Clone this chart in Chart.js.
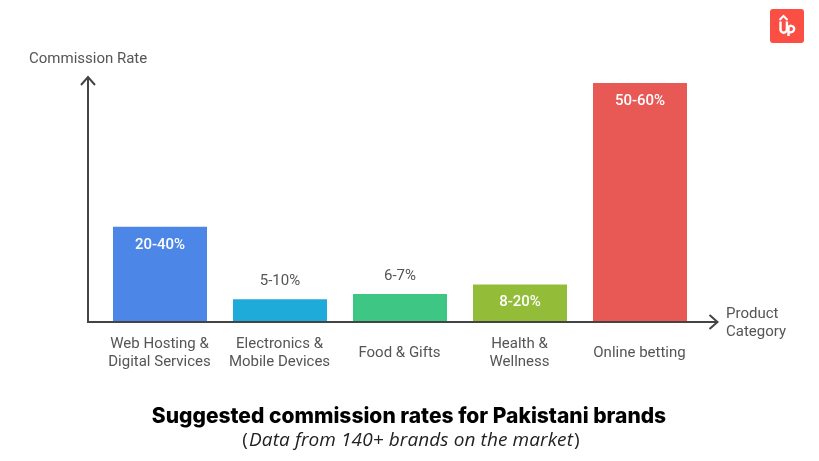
<!DOCTYPE html>
<html>
<head>
<meta charset="utf-8">
<title>Suggested commission rates</title>
<script src="https://cdn.jsdelivr.net/npm/chart.js@4"></script>
<style>
  html, body { margin: 0; padding: 0; background: #fff; }
  #wrap { position: relative; width: 819px; height: 461px; overflow: hidden; }
  #logo { position: absolute; left: 770px; top: 9px; }
</style>
</head>
<body>
<div id="wrap">
  <canvas id="bar-chart" width="819" height="461"></canvas>
  <svg id="logo" width="34" height="34" viewBox="0 0 34 34">
    <rect width="34" height="34" rx="3" fill="#fb4f45"/>
    <path d="M9.5 11 L13.5 7 L17.5 11" fill="none" stroke="#fff" stroke-width="2"/>
    <path d="M10.5 12.5 V20.5 a3.2 3.2 0 0 0 6.4 0 V12.5" fill="none" stroke="#fff" stroke-width="2.4"/>
    <path d="M18.5 27 V18 a3.2 3.2 0 1 1 2.5 5.2 H18" fill="none" stroke="#fff" stroke-width="2.4"/>
  </svg>
</div>
<script>
// Data
var categories = [["Web Hosting &", "Digital Services"], ["Electronics &", "Mobile Devices"], ["Food & Gifts"], ["Health &", "Wellness"], ["Online betting"]];
var barHeights = [23.9, 5.7, 7, 9.4, 60];
var rateLabels = ["20-40%", "5-10%", "6-7%", "8-20%", "50-60%"];
var barColors = ["#4c87e8", "#1eabda", "#3ec784", "#93bd39", "#e85854"];
var yAxisTitle = "Commission Rate";
var xAxisTitle = ["Product", "Category"];
var chartTitle = "Suggested commission rates for Pakistani brands";
var chartSubtitle = "Data from 140+ brands on the market";

var textColor = "#555555";
var axisColor = "#444444";

// Axis lines with arrow heads, hung off the chart area
var axisArrows = {
  id: "axisArrows",
  afterDatasetsDraw: function (chart) {
    var ctx = chart.ctx, area = chart.chartArea;
    var x0 = area.left - 12, y0 = area.bottom;
    var tipX = area.right + 17.5, tipY = area.top - 6;
    ctx.save();
    ctx.strokeStyle = axisColor;
    ctx.lineWidth = 2;
    ctx.beginPath();
    ctx.moveTo(x0, tipY);
    ctx.lineTo(x0, y0);
    ctx.moveTo(x0 - 1, y0);
    ctx.lineTo(tipX, y0);
    // top arrow
    ctx.moveTo(x0 - 7, tipY + 8);
    ctx.lineTo(x0, tipY);
    ctx.lineTo(x0 + 7, tipY + 8);
    // right arrow
    ctx.moveTo(tipX - 8, y0 - 7);
    ctx.lineTo(tipX, y0);
    ctx.lineTo(tipX - 8, y0 + 7);
    ctx.stroke();
    ctx.restore();
  }
};

// Category labels, value labels, axis titles and the heading
var chartText = {
  id: "chartText",
  afterDraw: function (chart) {
    var ctx = chart.ctx, area = chart.chartArea;
    var xScale = chart.scales.x;
    var bars = chart.getDatasetMeta(0).data;
    ctx.save();
    ctx.textBaseline = "middle";
    ctx.textAlign = "center";
    ctx.font = "15px Roboto";
    ctx.fillStyle = textColor;

    //Category labels, centered as a block under each bar
    categories.forEach(function (lines, i) {
      var x = xScale.getPixelForValue(i) - 0.5;
      var y = area.bottom + 31 - (lines.length - 1) * 9;
      lines.forEach(function (line, j) {
        ctx.fillText(line, x, y + j * 18);
      });
    });

    //Value labels, white inside the taller bars
    rateLabels.forEach(function (label, i) {
      var inside = barHeights[i] > 8;
      ctx.font = inside ? "500 15px Roboto" : "15px Roboto";
      ctx.fillStyle = inside ? "#ffffff" : textColor;
      ctx.fillText(label, bars[i].x, inside ? bars[i].y + 18 : bars[i].y - 18);
    });

    //Axis titles
    ctx.font = "15px Roboto";
    ctx.fillStyle = textColor;
    ctx.textAlign = "left";
    ctx.fillText(yAxisTitle, 29, 59);
    xAxisTitle.forEach(function (line, j) {
      ctx.fillText(line, 726, 314 + j * 18);
    });

    //Heading
    ctx.textAlign = "center";
    ctx.fillStyle = "#000000";
    ctx.font = "800 21px Inter";
    ctx.fillText(chartTitle, 409, 417);

    // the brackets stay upright, only the words lean
    ctx.font = "italic 19px 'Open Sans'";
    ctx.fillStyle = "#222222";
    ctx.letterSpacing = "0.1px";
    var w = ctx.measureText(chartSubtitle).width;
    ctx.fillText(chartSubtitle, 411, 441);
    ctx.font = "19px 'Open Sans'";
    ctx.textAlign = "right";
    ctx.fillText("(", 411 - w / 2 - 1, 441);
    ctx.textAlign = "left";
    ctx.fillText(")", 411 + w / 2 + 1, 441);
    ctx.restore();
  }
};

var chart = new Chart(document.getElementById("bar-chart"), {
  type: "bar",
  data: {
    labels: categories,
    datasets: [{
      data: barHeights,
      backgroundColor: barColors,
      borderWidth: 0,
      categoryPercentage: 94 / 120,
      barPercentage: 1
    }]
  },
  options: {
    responsive: false,
    animation: false,
    layout: { padding: { left: 100, right: 119, top: 83, bottom: 139 } },
    plugins: { legend: { display: false }, tooltip: { enabled: false } },
    scales: {
      x: { display: false },
      y: { display: false, min: 0, max: 60 }
    }
  },
  plugins: [axisArrows, chartText]
});
</script>
</body>
</html>
